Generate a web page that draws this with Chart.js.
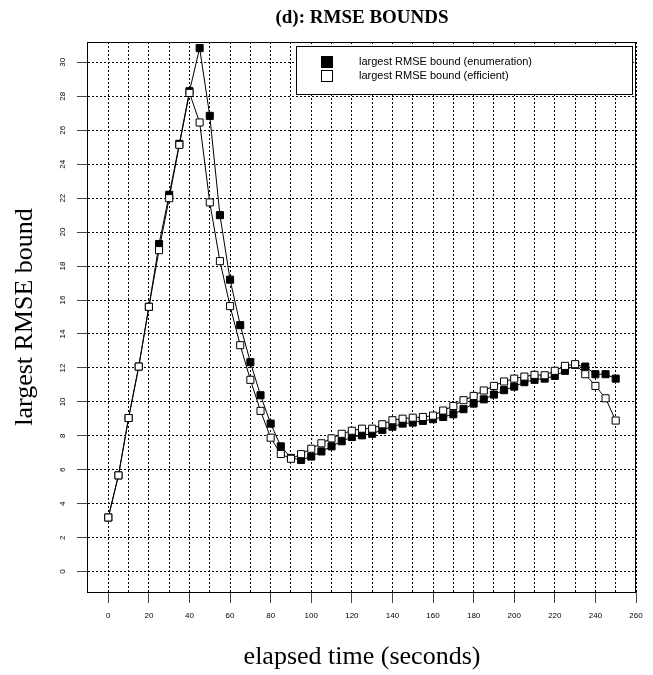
<!DOCTYPE html>
<html>
<head>
<meta charset="utf-8">
<script src="https://cdn.jsdelivr.net/npm/chart.js@4.4.1/dist/chart.umd.min.js"></script>
<style>
  html, body { margin: 0; padding: 0; background: #fff; }
</style>
</head>
<body>
<canvas id="myChart" width="653" height="675"></canvas>
<script>
// elapsed time (seconds), one sample every 5 s
const elapsed = [0, 5, 10, 15, 20, 25, 30, 35, 40, 45, 50, 55, 60, 65, 70, 75, 80, 85, 90, 95,
  100, 105, 110, 115, 120, 125, 130, 135, 140, 145, 150, 155, 160, 165, 170, 175, 180, 185, 190, 195,
  200, 205, 210, 215, 220, 225, 230, 235, 240, 245, 250];

// largest RMSE bound (enumeration) - black squares
const enumerationBound = [3.19, 5.67, 9.05, 12.08, 15.6, 19.3, 22.2, 25.2, 28.3, 30.84,
  26.85, 21.0, 17.2, 14.52, 12.34, 10.39, 8.72, 7.38, 6.7, 6.58,
  6.78, 7.08, 7.38, 7.68, 7.93, 8.03, 8.12, 8.35, 8.54, 8.72,
  8.78, 8.88, 8.98, 9.11, 9.27, 9.57, 9.9, 10.15, 10.43, 10.69,
  10.9, 11.16, 11.3, 11.37, 11.53, 11.83, 12.18, 12.08, 11.63, 11.63, 11.37];

// largest RMSE bound (efficient) - white squares
const efficientBound = [3.19, 5.67, 9.05, 12.08, 15.6, 18.94, 22.0, 25.14, 28.2, 26.46,
  21.75, 18.29, 15.64, 13.34, 11.3, 9.47, 7.89, 6.93, 6.65, 6.92,
  7.24, 7.56, 7.85, 8.12, 8.3, 8.42, 8.42, 8.68, 8.92, 9.01,
  9.07, 9.11, 9.19, 9.49, 9.76, 10.1, 10.35, 10.67, 10.94, 11.2,
  11.37, 11.49, 11.59, 11.57, 11.83, 12.12, 12.22, 11.63, 10.94, 10.21, 8.9];

// grid every 10 s, labels every 20 s
const xTicks = [0, 10, 20, 30, 40, 50, 60, 70, 80, 90, 100, 110, 120, 130, 140, 150, 160, 170, 180, 190,
  200, 210, 220, 230, 240, 250, 260];
const xLabels = [0, 20, 40, 60, 80, 100, 120, 140, 160, 180, 200, 220, 240, 260];
const yTicks = [0, 2, 4, 6, 8, 10, 12, 14, 16, 18, 20, 22, 24, 26, 28, 30];

const titleText = '(d): RMSE BOUNDS';
const xTitle = 'elapsed time (seconds)';
const yTitle = 'largest RMSE bound';
const legendLabels = ['largest RMSE bound (enumeration)', 'largest RMSE bound (efficient)'];

const ctx = document.querySelector('#myChart');

// R style box, titles and legend
const rDecor = {
  id: 'rDecor',
  afterDraw(chart) {
    const c = chart.ctx;
    const a = chart.chartArea;
    const xs = chart.scales.x;
    c.save();
    c.strokeStyle = '#000';
    c.lineWidth = 1;
    c.strokeRect(a.left - 0.5, a.top + 0.5, a.right - a.left, a.bottom - a.top);
    // axis line
    c.beginPath();
    c.moveTo(xs.getPixelForValue(0), a.bottom + 0.5);
    c.lineTo(a.right, a.bottom + 0.5);
    c.stroke();

    // legend
    const lx = a.right - 340, ly = a.top + 4;
    c.fillStyle = '#fff';
    c.fillRect(lx, ly, 336, 48);
    c.strokeRect(lx + 0.5, ly + 0.5, 336, 48);
    c.fillStyle = '#000';
    c.fillRect(lx + 25, ly + 10, 12, 12);
    c.fillStyle = '#fff';
    c.fillRect(lx + 25, ly + 24, 12, 12);
    c.strokeRect(lx + 25.5, ly + 24.5, 11, 11);
    c.fillStyle = '#000';
    c.font = '11px "Liberation Sans", Arial, sans-serif';
    c.textAlign = 'left';
    c.textBaseline = 'middle';
    c.fillText(legendLabels[0], lx + 63, ly + 16);
    c.fillText(legendLabels[1], lx + 63, ly + 30);

    // titles
    const cx = (a.left + a.right) / 2;
    c.textAlign = 'center';
    c.font = 'bold 19px "Liberation Serif", "Times New Roman", serif';
    c.fillText(titleText, cx, 18);
    c.font = '26px "Liberation Serif", "Times New Roman", serif';
    c.fillText(xTitle, cx, 657);
    c.translate(25, (a.top + a.bottom) / 2);
    c.rotate(-Math.PI / 2);
    c.fillText(yTitle, 0, 0);
    c.restore();
  }
};

Chart.defaults.font.family = '"Liberation Sans", Arial, sans-serif';

const rmseChart = new Chart(ctx, {
  type: 'line',
  data: {
    datasets: [{
      label: legendLabels[1],
      data: elapsed.map((t, i) => ({x: t, y: efficientBound[i]})),
      borderColor: '#000',
      borderWidth: 1,
      pointStyle: 'rect',
      pointRadius: 5,
      pointBackgroundColor: '#fff',
      pointBorderColor: '#000',
      pointBorderWidth: 1,
      tension: 0
    }, {
      label: legendLabels[0],
      data: elapsed.map((t, i) => ({x: t, y: enumerationBound[i]})),
      borderColor: '#000',
      borderWidth: 1,
      pointStyle: 'rect',
      pointRadius: 5,
      pointBackgroundColor: '#000',
      pointBorderColor: '#000',
      pointBorderWidth: 1,
      tension: 0
    }]
  },
  options: {
    responsive: false,
    animation: false,
    devicePixelRatio: 1,
    layout: { padding: { top: 42, right: 17, left: 0, bottom: 0 } },
    plugins: {
      legend: { display: false },
      tooltip: { enabled: false }
    },
    scales: {
      x: {
        type: 'linear',
        min: -10,
        max: 260,
        afterBuildTicks: s => { s.ticks = xTicks.map(v => ({value: v})); },
        afterFit: s => { s.height = 83; },
        ticks: {
          autoSkip: false,
          minRotation: 0,
          maxRotation: 0,
          padding: 8,
          color: '#000',
          font: { size: 8 },
          callback: v => xLabels.includes(v) ? String(v) : ''
        },
        grid: {
          color: '#000',
          lineWidth: 1,
          tickLength: 11,
          tickColor: c => xLabels.includes(c.tick.value) ? '#444' : 'rgba(0,0,0,0)'
        },
        border: { display: false, dash: [2, 2] }
      },
      y: {
        type: 'linear',
        min: -1.2,
        max: 31.2,
        afterBuildTicks: s => { s.ticks = yTicks.map(v => ({value: v})); },
        afterFit: s => { s.width = 88; },
        ticks: {
          autoSkip: false,
          minRotation: 90,
          maxRotation: 90,
          crossAlign: 'center',
          padding: 10,
          color: '#000',
          font: { size: 8 }
        },
        grid: {
          color: '#000',
          lineWidth: 1,
          tickLength: 11,
          tickColor: '#444'
        },
        border: { display: false, dash: [2, 2] }
      }
    }
  },
  plugins: [rDecor]
});
</script>
</body>
</html>
